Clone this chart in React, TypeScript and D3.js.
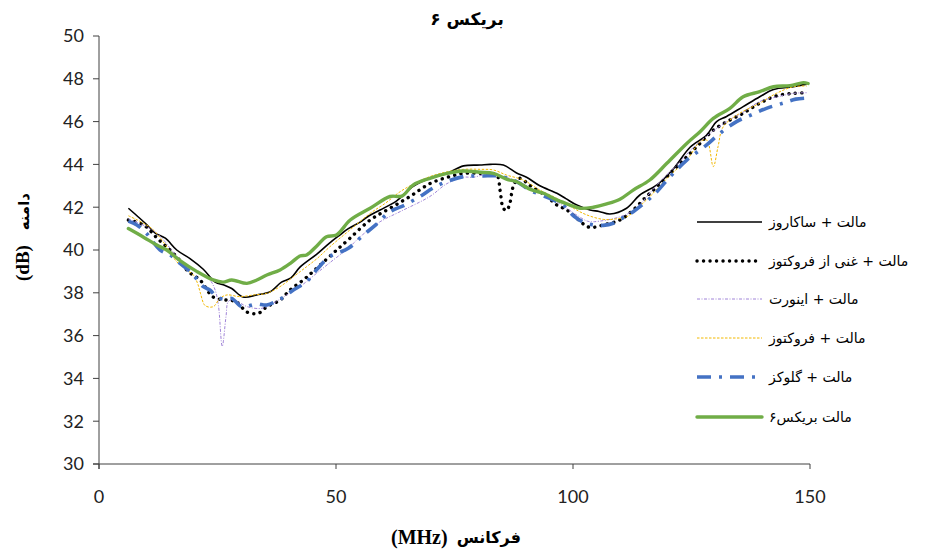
import React from "react";
import * as d3 from "d3";

type Pt = [number, number];

const xTicks = [0, 50, 100, 150];
const yTicks = [30, 32, 34, 36, 38, 40, 42, 44, 46, 48, 50];

const titleText = "بریکس ۶";
const xTitleWord = "فرکانس";
const xTitleUnit = "(MHz)";
const yTitleWord = "دامنه";
const yTitleUnit = "(dB)";

const seriesNames = [
  "مالت + ساکاروز",
  "مالت + غنی از فروکتوز",
  "مالت + اینورت",
  "مالت + فروکتوز",
  "مالت + گلوکز",
  "مالت بریکس۶",
];

const sucrose: Pt[] = [
  [6.2, 41.95], [8, 41.6], [10, 41.2], [11.8, 40.8], [14, 40.55], [16.4, 40.0], [19.2, 39.6], [22, 39.1],
  [24.5, 38.5], [26.5, 38.35], [28, 38.2], [30.4, 37.8], [33.3, 37.9], [36.1, 38.05], [38.5, 38.5], [40.5, 38.7],
  [42.4, 39.2], [45.9, 39.8], [48.5, 40.3], [50.8, 40.7], [52.6, 41.0], [55.1, 41.3], [57, 41.6], [59.3, 41.87],
  [62.8, 42.3], [66.2, 42.96], [69.8, 43.35], [73.4, 43.58], [76.9, 43.93], [80.4, 43.97], [82.5, 44.0],
  [85.3, 43.97], [88.1, 43.6], [90.2, 43.4], [93, 43.0], [96.6, 42.65], [98.5, 42.4], [100.8, 42.1],
  [103.6, 41.87], [105.5, 41.8], [107.8, 41.68], [111.3, 41.95], [114.1, 42.57], [117.7, 43.04], [121.2, 43.8],
  [124.7, 44.8], [128.2, 45.37], [130.3, 46.0], [132.4, 46.24], [135.9, 46.7], [139.4, 47.16], [142.3, 47.5],
  [146.5, 47.63], [149.3, 47.75],
];

const highFructose: Pt[] = [
  [6.2, 41.4], [9.4, 41.17], [12.5, 40.5], [15, 40.0], [17.1, 39.5], [18.8, 39.0], [21.3, 38.6], [24.1, 37.8],
  [26.9, 37.66], [29, 37.58], [31.2, 37.1], [33.6, 37.04], [35.4, 37.35], [38.2, 37.66], [40.3, 38.13],
  [43.1, 38.6], [45.9, 39.14], [49.4, 39.85], [52.7, 40.5], [57.2, 41.4], [61.4, 41.95], [65.6, 42.5],
  [69.8, 43.1], [74, 43.43], [76.9, 43.58], [80.4, 43.58], [83.9, 43.5], [84.6, 42.8], [85.3, 41.95],
  [86, 41.85], [86.7, 42.2], [87.1, 42.7], [87.6, 43.1], [88.8, 43.35], [91, 43.0], [94.5, 42.5], [96.6, 42.1],
  [98.7, 41.87], [101.5, 41.35], [102.9, 41.1], [104.3, 41.06], [106.4, 41.17], [109.9, 41.4], [112.7, 41.87],
  [115.5, 42.5], [118.4, 43.1], [121.2, 43.74], [124, 44.36], [126.8, 44.98], [129.6, 45.6], [133.1, 46.07],
  [135.9, 46.39], [139.4, 46.86], [142.9, 47.2], [146.5, 47.32], [149.3, 47.35],
];

const invert: Pt[] = [
  [6.2, 41.45], [9, 41.2], [11.5, 40.9], [13.5, 40.5], [15.6, 39.92], [18.8, 39.22], [21.3, 38.91], [23.4, 38.6],
  [24.5, 38.13], [25.2, 37.4], [26, 35.5], [26.8, 36.9], [27.3, 37.6], [28.5, 37.66], [31.3, 37.35],
  [34.2, 37.27], [36.1, 37.43], [39.6, 37.9], [42.4, 38.29], [45.9, 38.91], [49.4, 39.53], [52.6, 40.08],
  [55, 40.6], [59.3, 41.32], [63.5, 41.79], [69.8, 42.5], [73.4, 43.1], [76.9, 43.4], [79, 43.4], [81.8, 43.54],
  [84.5, 43.45], [88, 43.25], [91, 42.9], [95, 42.45], [98, 42.05], [101, 41.6], [103, 41.35], [104.3, 41.32],
  [109.9, 41.55], [113, 41.9], [117.7, 43.04], [122, 44.0], [126.3, 44.98], [132.4, 46.0], [136, 46.45],
  [139.4, 46.94], [143, 47.15], [146.5, 47.32], [149.3, 47.35],
];

const fructose: Pt[] = [
  [6.2, 41.6], [9.4, 41.25], [11.5, 40.93], [14.3, 40.15], [16.4, 39.45], [18.5, 39.07], [19.9, 38.83],
  [20.8, 38.44], [21.4, 37.98], [22.4, 37.4], [24.1, 37.35], [25.5, 37.74], [27, 37.9], [29.7, 37.82],
  [32.6, 37.9], [35.4, 37.98], [38.2, 38.29], [41, 38.75], [43.8, 39.22], [46, 39.6], [48.7, 40.15],
  [52.9, 40.93], [57.2, 41.71], [60.5, 42.2], [63.5, 42.72], [66.5, 43.1], [69.8, 43.43], [73.4, 43.65],
  [76.9, 43.77], [80.4, 43.77], [83.2, 43.74], [86, 43.5], [89.5, 43.27], [93, 42.8], [96.6, 42.41],
  [100.1, 41.95], [102.9, 41.64], [106.4, 41.43], [109, 41.45], [111.3, 41.55], [115.5, 42.34], [120.5, 43.5],
  [124, 44.2], [126.8, 45.06], [128.2, 45.14], [129.6, 43.9], [130.6, 44.83], [131.7, 45.76], [135.2, 46.39],
  [139.4, 46.86], [142.9, 47.32], [146.5, 47.63], [149.3, 47.66],
];

const glucose: Pt[] = [
  [6.2, 41.35], [8, 41.17], [10, 40.78], [12.9, 40.0], [15, 39.77], [17.1, 39.38], [19.6, 38.91], [22, 38.29],
  [23.4, 38.13], [24.8, 37.82], [26.5, 37.7], [28, 37.74], [30.1, 37.35], [33.3, 37.48], [35.4, 37.43],
  [38.5, 37.74], [41, 38.13], [43.8, 38.52], [45.9, 39.07], [48.7, 39.69], [52.6, 40.08], [55.8, 40.7],
  [58.5, 41.2], [61.4, 41.79], [64.5, 42.1], [67.7, 42.5], [70.5, 42.9], [73.4, 43.2], [76.9, 43.43],
  [81.1, 43.46], [84, 43.46], [88.1, 43.2], [90.9, 42.8], [95.1, 42.41], [97.9, 42.1], [100.1, 41.6],
  [102.2, 41.3], [104.3, 41.17], [106.4, 41.15], [108.5, 41.25], [110.5, 41.5], [112.7, 41.79], [117, 42.57],
  [120.5, 43.43], [124, 44.2], [128.2, 44.91], [131, 45.45], [134.5, 46.0], [137.5, 46.3], [140.8, 46.62],
  [144.3, 46.86], [147, 47.05], [149.3, 47.1],
];

const brix6: Pt[] = [
  [6.2, 41.0], [9.4, 40.6], [12.2, 40.23], [14.3, 40.0], [17.1, 39.5], [20.6, 39.0], [24.1, 38.6], [26.2, 38.5],
  [28, 38.6], [31.2, 38.44], [33.3, 38.6], [35.4, 38.83], [38.2, 39.07], [40.5, 39.4], [42.4, 39.72],
  [43.8, 39.77], [46, 40.2], [48, 40.62], [50.1, 40.7], [53, 41.4], [57.2, 41.95], [61.4, 42.5], [63.9, 42.52],
  [66.3, 43.04], [69.8, 43.35], [73.4, 43.58], [76.9, 43.69], [80.4, 43.63], [83.2, 43.58], [86.1, 43.3],
  [88.1, 43.19], [91, 42.83], [93.8, 42.65], [96.6, 42.34], [99.4, 42.1], [101.5, 41.95], [104.3, 42.0],
  [107.1, 42.15], [109.9, 42.37], [112.7, 42.8], [116.2, 43.27], [119.8, 44.05], [124, 44.98], [126.8, 45.53],
  [129.6, 46.15], [133.1, 46.62], [135.9, 47.16], [139.4, 47.4], [142.3, 47.63], [145.8, 47.68],
  [148.6, 47.82], [149.6, 47.78],
];

const seriesData = [sucrose, highFructose, invert, fructose, glucose, brix6];

const styles = [
  { color: "#000000", width: 1.6, dash: "", cap: "butt" },
  { color: "#000000", width: 3.4, dash: "0.1 6.4", cap: "round" },
  { color: "#a084d8", width: 1, dash: "3 1.5 1 1.5", cap: "butt" },
  { color: "#f2b800", width: 1, dash: "2.5 1.5", cap: "butt" },
  { color: "#4472c4", width: 3.6, dash: "14 8 3 8", cap: "butt" },
  { color: "#70ad47", width: 3.4, dash: "", cap: "round" },
];

const W = 943;
const H = 557;
const left = 99;
const right = 810;
const top = 36;
const bottom = 464;

export default function App() {
  const x = d3.scaleLinear().domain([0, 150]).range([left, right]);
  const y = d3.scaleLinear().domain([30, 50]).range([bottom, top]);
  const line = d3
    .line<Pt>()
    .x((d) => x(d[0]))
    .y((d) => y(d[1]))
    .curve(d3.curveCatmullRom.alpha(0.5));

  const axisColor = "#404040";
  const tickFont = "Lato, 'Open Sans', sans-serif";
  const serif = "'Liberation Serif', serif";
  const arabic = "'DejaVu Sans', sans-serif";
  const legendX = 697;
  const legendYs = [222, 261, 299, 338, 377, 417];

  return (
    <svg
      width={W}
      height={H}
      style={{ position: "absolute", left: 0, top: 0, background: "#fff" }}
    >
      <rect x={0} y={0} width={W} height={H} fill="#fff" />
      <text
        x={467}
        y={25}
        textAnchor="middle"
        fontFamily={arabic}
        fontWeight="bold"
        fontSize={17}
        fill="#000"
      >
        {titleText}
      </text>

      {/* axes */}
      <line x1={left} x2={left} y1={top} y2={bottom + 5} stroke={axisColor} strokeWidth={1} />
      <line x1={left - 6} x2={right} y1={bottom} y2={bottom} stroke={axisColor} strokeWidth={1} />
      {yTicks.map((t) => (
        <g key={"y" + t}>
          <line x1={left - 6} x2={left} y1={y(t)} y2={y(t)} stroke={axisColor} />
          <text
            x={84}
            y={y(t)}
            dy="0.36em"
            textAnchor="end"
            fontFamily={tickFont}
            fontSize={18}
            fill="#222"
          >
            {t}
          </text>
        </g>
      ))}
      {xTicks.map((t) => (
        <g key={"x" + t}>
          <line x1={x(t)} x2={x(t)} y1={bottom} y2={bottom + 5} stroke={axisColor} />
          <text
            x={x(t)}
            y={503}
            textAnchor="middle"
            fontFamily={tickFont}
            fontSize={18}
            fill="#222"
          >
            {t}
          </text>
        </g>
      ))}

      {/* x axis title */}
      <text x={391} y={544} textAnchor="start" fontFamily={serif} fontWeight="bold" fontSize={20} fill="#000">
        {xTitleUnit}
      </text>
      <text x={521} y={543} textAnchor="end" fontFamily={arabic} fontWeight="bold" fontSize={16} fill="#000">
        {xTitleWord}
      </text>

      {/* y axis title */}
      <g transform="translate(29, 0) rotate(-90)">
        <text x={-281} y={0} textAnchor="start" fontFamily={serif} fontWeight="bold" fontSize={19} fill="#000">
          {yTitleUnit}
        </text>
        <text x={-193} y={0} textAnchor="end" fontFamily={arabic} fontWeight="bold" fontSize={15} fill="#000">
          {yTitleWord}
        </text>
      </g>

      {/* series */}
      {seriesData.map((data, i) => (
        <path
          key={"s" + i}
          d={line(data) || ""}
          fill="none"
          stroke={styles[i].color}
          strokeWidth={styles[i].width}
          strokeDasharray={styles[i].dash || undefined}
          strokeLinecap={styles[i].cap as any}
          strokeLinejoin="round"
        />
      ))}

      {/* legend */}
      {seriesNames.map((name, i) => (
        <g key={"l" + i}>
          <line
            x1={legendX}
            x2={legendX + 65}
            y1={legendYs[i]}
            y2={legendYs[i]}
            stroke={styles[i].color}
            strokeWidth={styles[i].width}
            strokeDasharray={styles[i].dash || undefined}
            strokeLinecap={styles[i].cap as any}
          />
          <text
            x={769}
            y={legendYs[i]}
            dy="0.35em"
            textAnchor="start"
            fontFamily={arabic}
            fontSize={14}
            fill="#000"
          >
            {name}
          </text>
        </g>
      ))}
    </svg>
  );
}
